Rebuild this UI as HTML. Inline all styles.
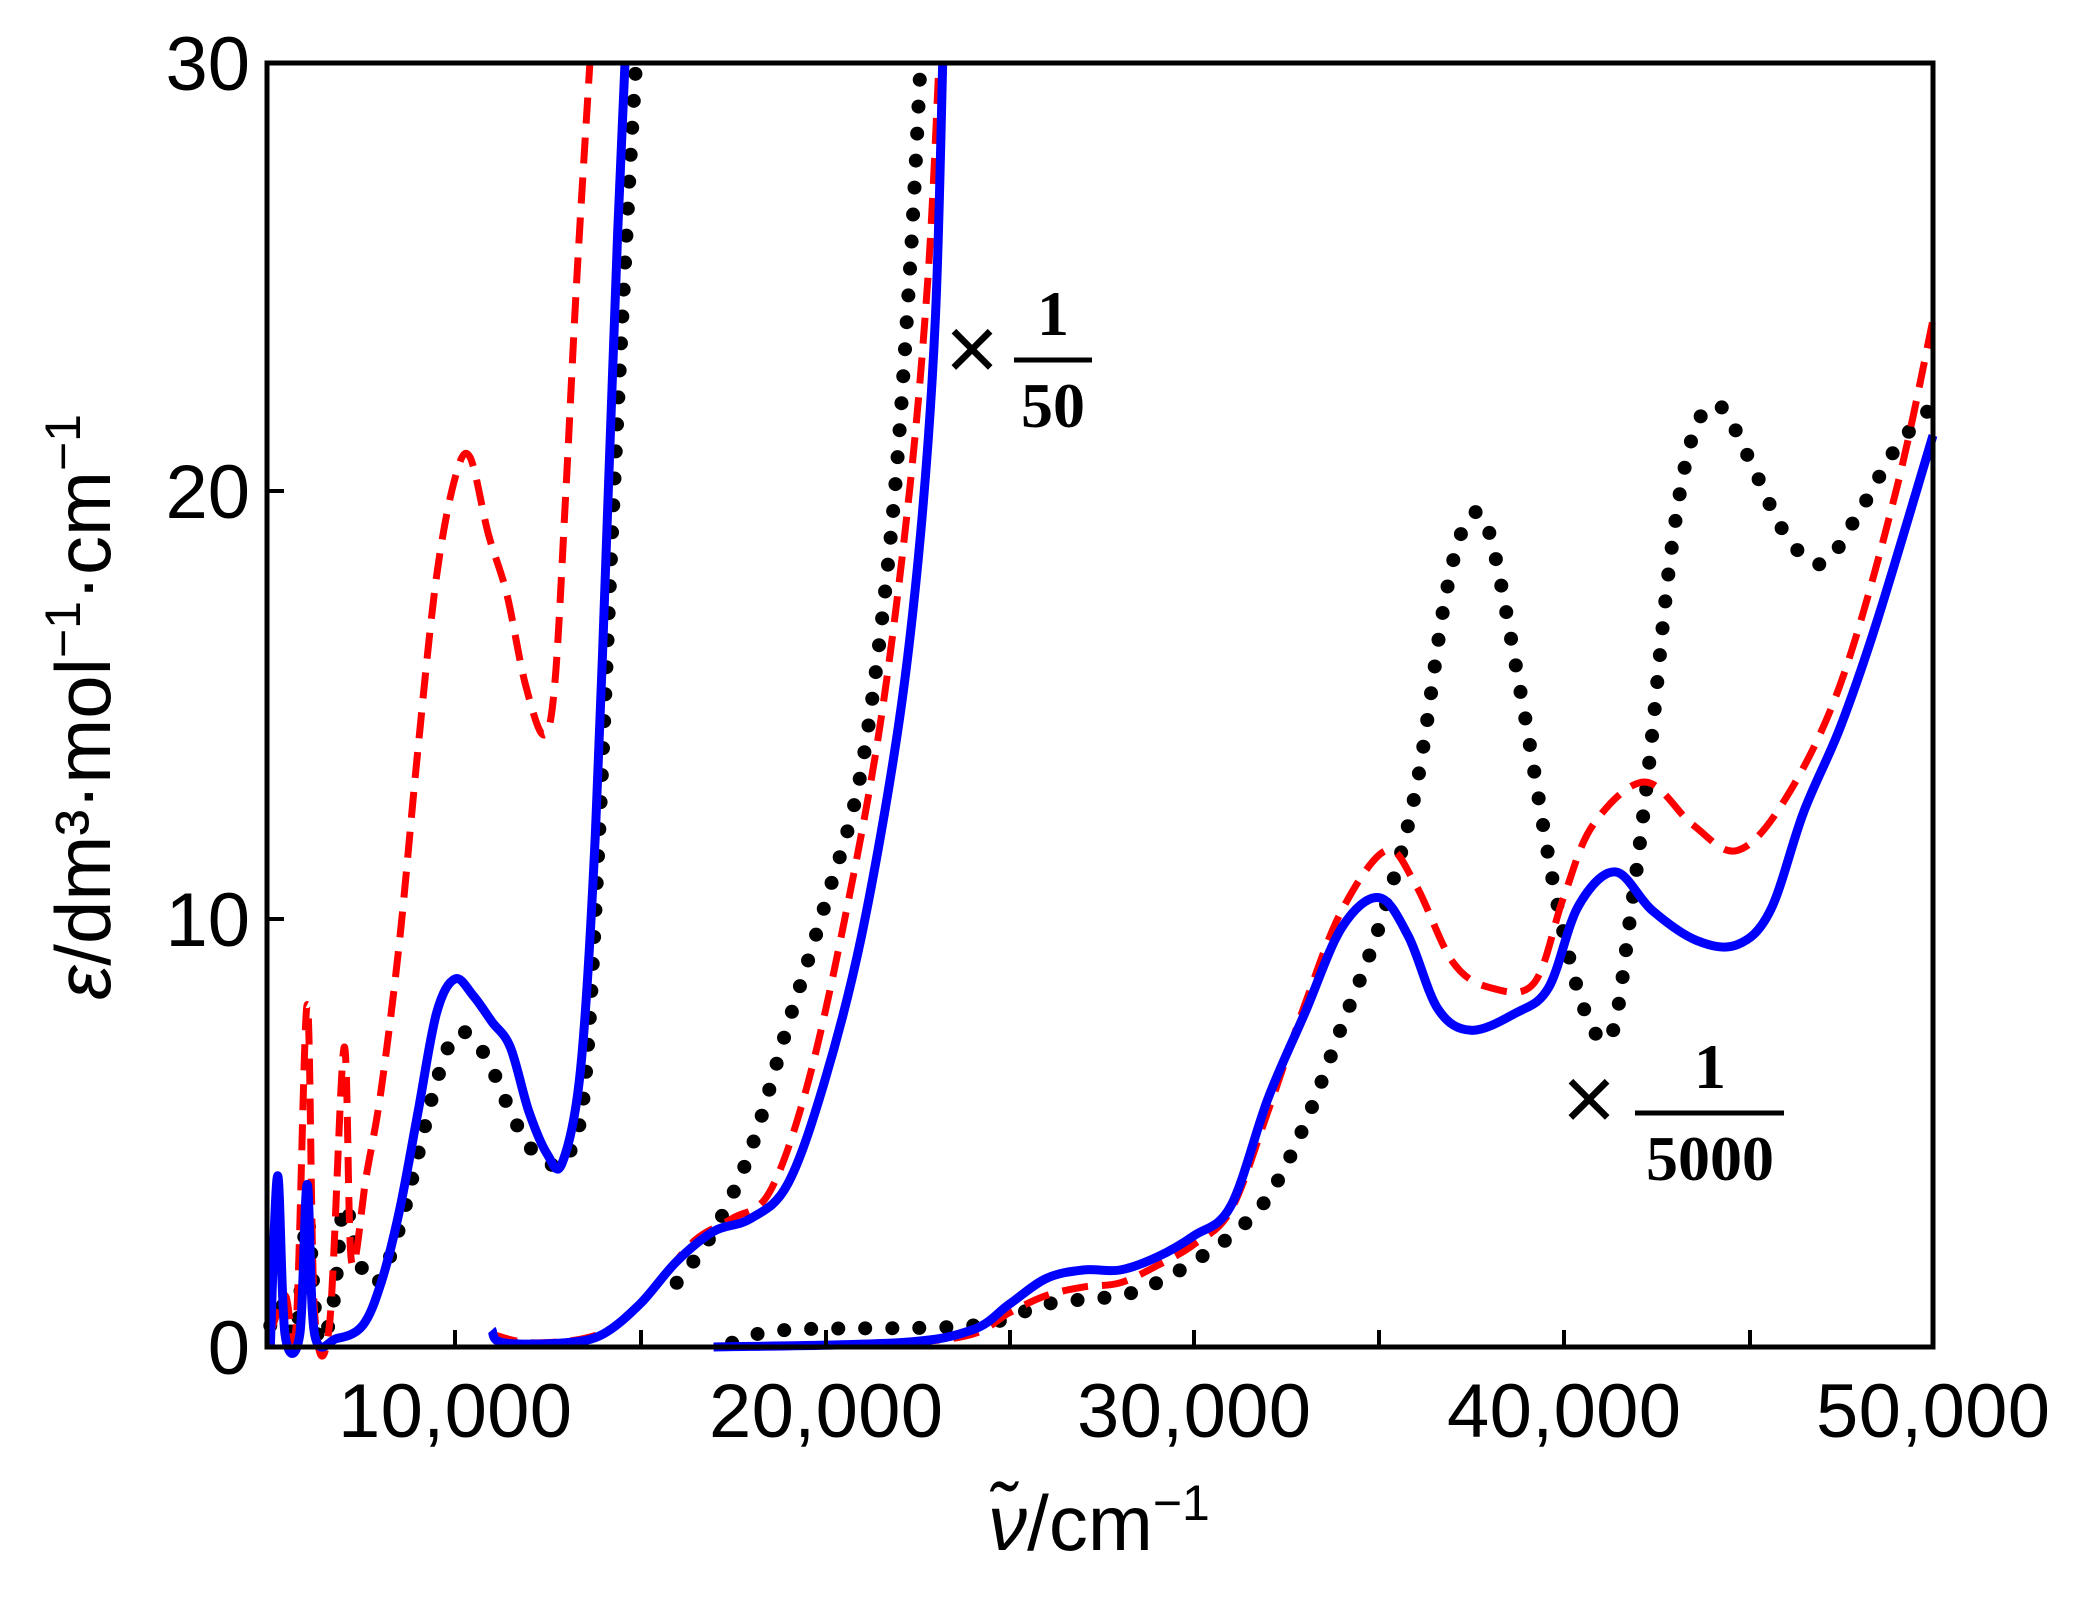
<!DOCTYPE html>
<html><head><meta charset="utf-8"><style>
html,body{margin:0;padding:0;background:#fff;}
svg{display:block;}
text{font-family:"Liberation Sans",sans-serif;}
text.s{font-family:"Liberation Serif",serif;font-weight:bold;}
</style></head><body>
<svg id="s" width="2080" height="1601" viewBox="0 0 2080 1601" xmlns="http://www.w3.org/2000/svg">
<rect width="2080" height="1601" fill="#fff"/>
<g id="curves"></g>
<rect x="267" y="63" width="1666" height="1284" fill="none" stroke="#000" stroke-width="5"/>
<g stroke="#000" stroke-width="4">
<line x1="455" y1="1347" x2="455" y2="1330"/><line x1="641" y1="1347" x2="641" y2="1330"/>
<line x1="826" y1="1347" x2="826" y2="1330"/><line x1="1010" y1="1347" x2="1010" y2="1330"/>
<line x1="1194" y1="1347" x2="1194" y2="1330"/><line x1="1379" y1="1347" x2="1379" y2="1330"/>
<line x1="1564" y1="1347" x2="1564" y2="1330"/><line x1="1750" y1="1347" x2="1750" y2="1330"/>
<line x1="267" y1="919" x2="284" y2="919"/><line x1="267" y1="491" x2="284" y2="491"/>
</g>
<g font-size="76" fill="#000">
<text x="250" y="1374" text-anchor="end">0</text>
<text x="250" y="946" text-anchor="end">10</text>
<text x="250" y="518" text-anchor="end">20</text>
<text x="250" y="90" text-anchor="end">30</text>
<text x="455" y="1437" text-anchor="middle" textLength="234">10,000</text>
<text x="826" y="1437" text-anchor="middle" textLength="234">20,000</text>
<text x="1194" y="1437" text-anchor="middle" textLength="234">30,000</text>
<text x="1564" y="1437" text-anchor="middle" textLength="234">40,000</text>
<text x="1933" y="1437" text-anchor="middle" textLength="234">50,000</text>
<text x="1099" y="1550" text-anchor="middle" font-size="78"><tspan font-style="italic">ν̃</tspan>/cm<tspan font-size="50" dy="-30">−1</tspan></text>
<text transform="translate(110,707) rotate(-90)" text-anchor="middle" font-size="78"><tspan font-style="italic">ε</tspan>/dm³·mol<tspan font-size="50" dy="-30">−1</tspan><tspan dy="30">·cm</tspan><tspan font-size="50" dy="-30">−1</tspan></text>
</g>
<g fill="#000">
<text x="972" y="380" text-anchor="middle" font-size="92">×</text>
<line x1="1014" y1="360" x2="1092" y2="360" stroke="#000" stroke-width="5"/>
<text class="s" x="1053" y="335" text-anchor="middle" font-size="64">1</text>
<text class="s" x="1053" y="427" text-anchor="middle" font-size="64">50</text>
<text x="1589" y="1130" text-anchor="middle" font-size="92">×</text>
<line x1="1635" y1="1113" x2="1784" y2="1113" stroke="#000" stroke-width="5"/>
<text class="s" x="1710" y="1088" text-anchor="middle" font-size="64">1</text>
<text class="s" x="1710" y="1180" text-anchor="middle" font-size="64">5000</text>
</g>
</svg>
<script>
function X(v){return 455+(v-10000)*0.03695;}
function Y(e){return 1347-e*42.8;}
function path(d){
 var p=d.map(function(a){return [X(a[0]),Y(a[1])];});
 var s="M"+p[0][0].toFixed(1)+","+p[0][1].toFixed(1);
 for(var i=0;i<p.length-1;i++){
  var p0=p[i>0?i-1:i],p1=p[i],p2=p[i+1],p3=p[i+2<p.length?i+2:i+1];
  var c1=[p1[0]+(p2[0]-p0[0])/6,p1[1]+(p2[1]-p0[1])/6];
  var c2=[p2[0]-(p3[0]-p1[0])/6,p2[1]-(p3[1]-p1[1])/6];
  s+="C"+c1[0].toFixed(1)+","+c1[1].toFixed(1)+" "+c2[0].toFixed(1)+","+c2[1].toFixed(1)+" "+p2[0].toFixed(1)+","+p2[1].toFixed(1);
 }
 return s;
}
var red=[
[[5000,0.3],[5400,1.2],[5700,0.5],[6000,8],[6200,0.8],[6600,0.5],[7000,7],[7200,2],[7600,4],[8000,6],[8500,9.5],[9000,14],[9500,18],[10000,20.3],[10400,20.8],[10900,19],[11400,17.6],[11900,15.5],[12400,14.3],[12700,15.5],[13000,20],[13300,25],[13650,30]],
[[11000,0.3],[12000,0.1],[13500,0.2],[14500,0.6],[15500,1.5],[16500,2.5],[17500,3],[18500,3.6],[19500,6],[20500,9.8],[21500,14.5],[22300,20],[22800,25],[23100,30]],
[[17000,0],[22000,0.1],[24000,0.3],[25000,0.8],[26000,1.2],[27000,1.4],[28000,1.5],[29000,1.9],[30000,2.4],[31000,3.2],[32000,5.5],[33000,8],[34000,10.2],[35200,11.6],[36000,10.8],[37000,9],[38000,8.4],[39200,8.5],[40000,10.5],[40800,12.2],[42200,13.2],[43500,12.2],[44700,11.6],[46000,12.8],[47500,15.5],[49000,20],[50000,24]]];
var blue=[
[[5000,0],[5200,4],[5400,0.3],[5800,0.3],[6000,3.8],[6200,0.3],[6800,0.2],[7500,0.5],[8000,1.5],[8500,3.2],[9000,5.5],[9500,7.8],[10000,8.6],[10500,8.2],[11000,7.6],[11500,7],[12000,5.5],[12500,4.5],[12900,4.3],[13400,6.5],[13800,12],[14150,20],[14400,26],[14600,30]],
[[11000,0.4],[11300,0.1],[13000,0.1],[14000,0.3],[15000,1],[16000,2],[17000,2.7],[18000,3],[19000,3.8],[20000,6.2],[21000,9.6],[22000,14.5],[22600,19],[23000,24],[23200,30]],
[[17000,0],[22000,0.1],[24000,0.4],[25000,1],[26000,1.6],[27000,1.8],[28000,1.8],[29000,2.1],[30000,2.6],[31000,3.3],[32000,5.8],[33000,7.8],[34000,9.8],[35000,10.5],[35800,9.6],[36600,7.9],[37500,7.4],[38700,7.8],[39600,8.4],[40400,10.3],[41400,11.1],[42400,10.2],[43600,9.5],[44700,9.4],[45600,10.2],[46500,12.5],[47500,14.5],[48500,17],[50000,21.3]]];
var black=[
[[5000,0.5],[5300,1],[5700,0.3],[6000,3],[6300,0.2],[6700,1],[7000,3.3],[7400,2],[7900,1.5],[8500,2.8],[9000,4.5],[9500,6.2],[10000,7.3],[10500,7.2],[11000,6.5],[11500,5.5],[12000,4.7],[12500,4.3],[13000,4.4],[13500,6],[13900,12],[14300,20],[14700,27],[14900,30]],
[[16000,1.5],[17000,2.7],[18000,4.6],[19000,7.5],[20000,10.3],[21000,13.5],[21800,19],[22300,25],[22600,30]],
[[17500,0.1],[19000,0.4],[24000,0.5],[26000,1],[28000,1.2],[29000,1.5],[30000,2],[31000,2.6],[32000,3.5],[33000,5.2],[34000,7.5],[35000,9.8],[36000,13],[36800,17.5],[37400,19.3],[38000,19],[38900,15],[39800,10.5],[40600,7.8],[41300,7.3],[41800,10],[42300,13.5],[42900,18.5],[43500,21.3],[44200,22],[45000,20.8],[46000,19],[47000,18.3],[48000,19.5],[49000,21],[50000,22]]];
var g=document.getElementById("curves"),h="";
black.forEach(function(d){h+='<path d="'+path(d)+'" fill="none" stroke="#000" stroke-width="14" stroke-linecap="round" stroke-dasharray="0 27"/>';});
red.forEach(function(d){h+='<path d="'+path(d)+'" fill="none" stroke="#f00" stroke-width="7" stroke-dasharray="26 14"/>';});
blue.forEach(function(d){h+='<path d="'+path(d)+'" fill="none" stroke="#00f" stroke-width="9" stroke-linejoin="round"/>';});
g.innerHTML=h;
</script>
</body></html>
